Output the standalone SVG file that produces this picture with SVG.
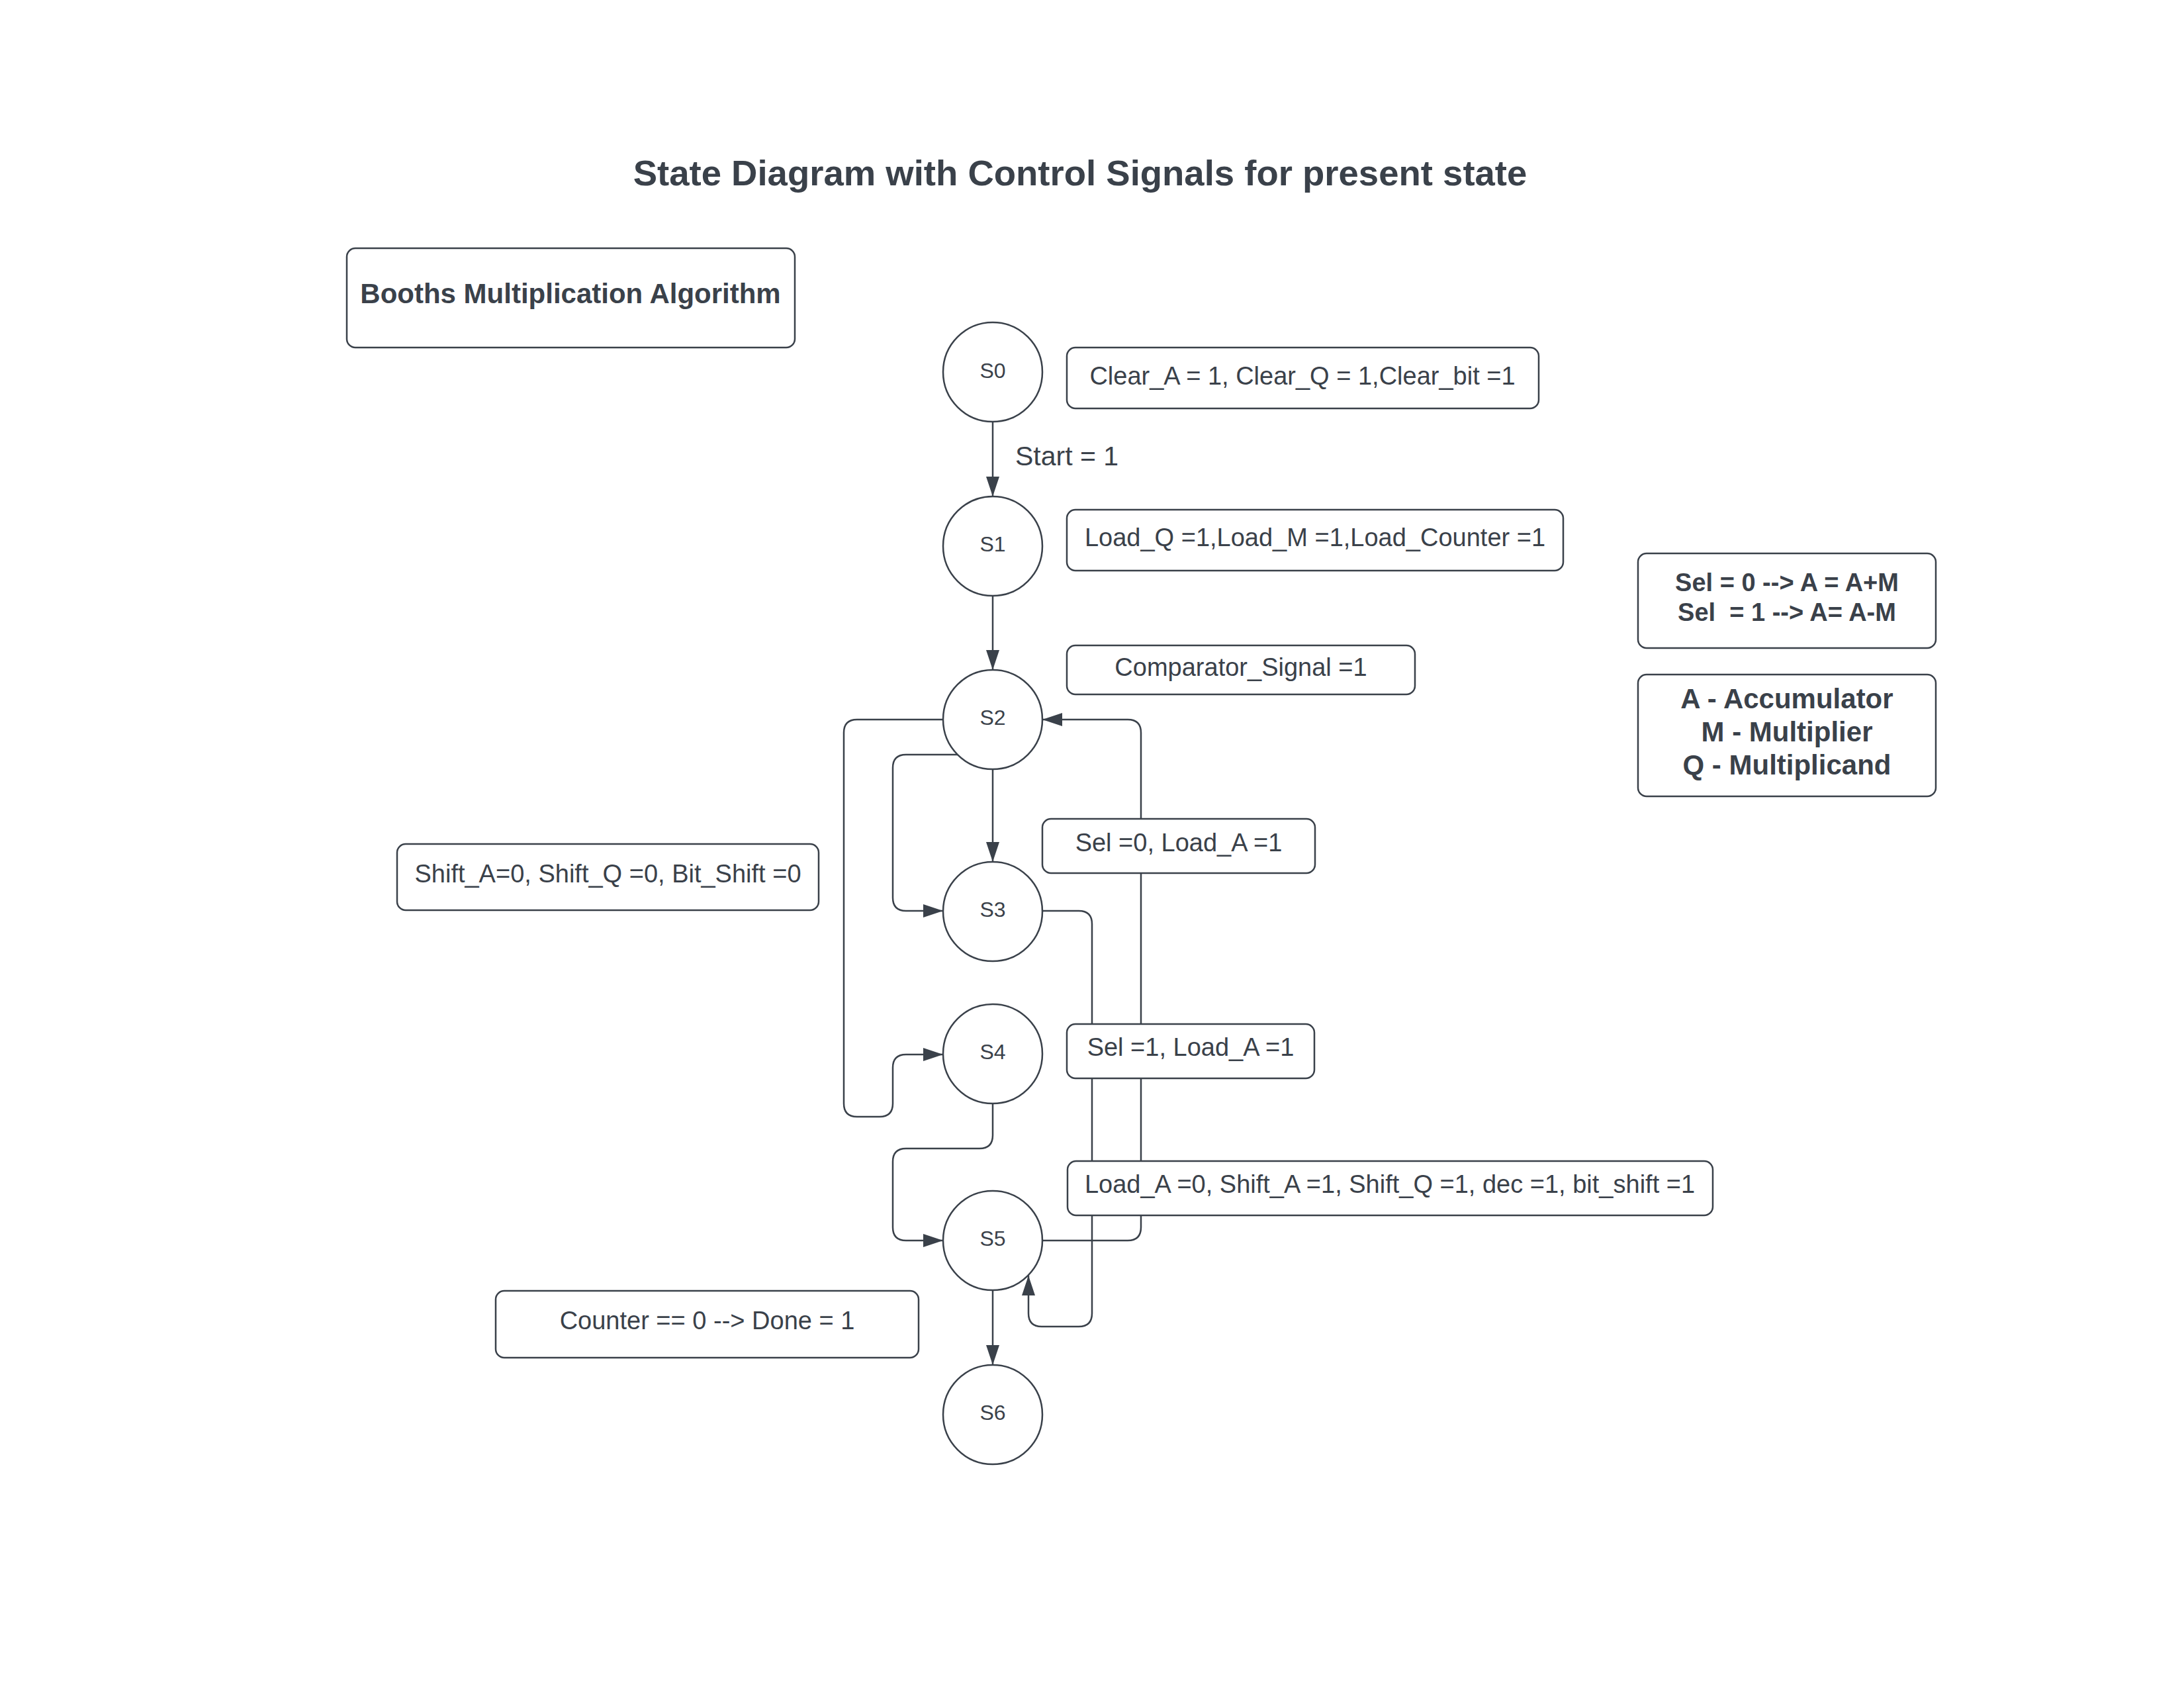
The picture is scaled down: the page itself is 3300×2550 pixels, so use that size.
<svg xmlns="http://www.w3.org/2000/svg" width="3300" height="2550" viewBox="0 0 3300 2550">
<style>
.bg{fill:#ffffff}
.st{fill:#ffffff;stroke:#3a414a;stroke-width:2.5}
.box{fill:#ffffff;stroke:#3a414a;stroke-width:2.5}
.ln{fill:none;stroke:#3a414a;stroke-width:2.5}
.t{font-family:"Liberation Sans",Arial,sans-serif;fill:#3a414a;text-anchor:middle}
.lbl{font-size:38px}
.sn{font-size:32px}
.b{font-weight:bold}
</style>
<defs>
<marker id="arr" markerUnits="userSpaceOnUse" markerWidth="30" markerHeight="20" refX="30" refY="10" orient="auto">
<path d="M0,0 L30,10 L0,20 z" fill="#3a414a"/>
</marker>
</defs>
<rect class="bg" x="0" y="0" width="3300" height="2550"/>
<text class="t b" x="1632" y="280" font-size="54.5">State Diagram with Control Signals for present state</text>

<g id="connectors">
<path class="ln" d="M1500,637 L1500,750" marker-end="url(#arr)"/>
<path class="ln" d="M1500,900 L1500,1012" marker-end="url(#arr)"/>
<path class="ln" d="M1500,1162 L1500,1302" marker-end="url(#arr)"/>
<path class="ln" d="M1425,1087 L1295,1087 Q1275,1087 1275,1107 L1275,1667 Q1275,1687 1295,1687 L1329,1687 Q1349,1687 1349,1667 L1349,1613 Q1349,1593 1369,1593 L1425,1593" marker-end="url(#arr)"/>
<path class="ln" d="M1447,1140 L1369,1140 Q1349,1140 1349,1160 L1349,1356 Q1349,1376 1369,1376 L1425,1376" marker-end="url(#arr)"/>
<path class="ln" d="M1575,1376 L1630,1376 Q1650,1376 1650,1396 L1650,1984 Q1650,2004 1630,2004 L1574,2004 Q1554,2004 1554,1984 L1554,1927" marker-end="url(#arr)"/>
<path class="ln" d="M1575,1874 L1704,1874 Q1724,1874 1724,1854 L1724,1107 Q1724,1087 1704,1087 L1575,1087" marker-end="url(#arr)"/>
<path class="ln" d="M1500,1667 L1500,1715 Q1500,1735 1480,1735 L1369,1735 Q1349,1735 1349,1755 L1349,1854 Q1349,1874 1369,1874 L1425,1874" marker-end="url(#arr)"/>
<path class="ln" d="M1500,1949 L1500,2062" marker-end="url(#arr)"/>
</g>

<g id="title-box">
<rect class="box" x="524" y="375" width="677" height="150" rx="13"/>
<text class="t b" x="862" y="458" font-size="42">Booths Multiplication Algorithm</text>
</g>

<g id="S0"><circle class="st" cx="1500" cy="562" r="75"/><text class="t sn" x="1500" y="571">S0</text></g>
<g id="S1"><circle class="st" cx="1500" cy="825" r="75"/><text class="t sn" x="1500" y="833">S1</text></g>
<g id="S2"><circle class="st" cx="1500" cy="1087" r="75"/><text class="t sn" x="1500" y="1095">S2</text></g>
<g id="S3"><circle class="st" cx="1500" cy="1377" r="75"/><text class="t sn" x="1500" y="1385">S3</text></g>
<g id="S4"><circle class="st" cx="1500" cy="1592" r="75"/><text class="t sn" x="1500" y="1600">S4</text></g>
<g id="S5"><circle class="st" cx="1500" cy="1874" r="75"/><text class="t sn" x="1500" y="1882">S5</text></g>
<g id="S6"><circle class="st" cx="1500" cy="2137" r="75"/><text class="t sn" x="1500" y="2145">S6</text></g>

<g id="start-label"><text class="t" x="1534" y="703" font-size="41" style="text-anchor:start">Start = 1</text></g>

<g id="S0-signals">
<rect class="box" x="1612" y="525" width="713" height="92" rx="13"/>
<text class="t lbl" x="1968" y="581">Clear_A = 1, Clear_Q = 1,Clear_bit =1</text>
</g>
<g id="S1-signals">
<rect class="box" x="1612" y="770" width="750" height="92" rx="13"/>
<text class="t lbl" x="1987" y="825">Load_Q =1,Load_M =1,Load_Counter =1</text>
</g>
<g id="S2-signals">
<rect class="box" x="1612" y="975" width="526" height="74" rx="13"/>
<text class="t lbl" x="1875" y="1021">Comparator_Signal =1</text>
</g>
<g id="S3-signals">
<rect class="box" x="1575" y="1237" width="412" height="82" rx="13"/>
<text class="t lbl" x="1781" y="1286">Sel =0, Load_A =1</text>
</g>
<g id="S4-signals">
<rect class="box" x="1612" y="1547" width="374" height="82" rx="13"/>
<text class="t lbl" x="1799" y="1595">Sel =1, Load_A =1</text>
</g>
<g id="S5-signals">
<rect class="box" x="1613" y="1754" width="975" height="82" rx="13"/>
<text class="t lbl" x="2100" y="1802">Load_A =0, Shift_A =1, Shift_Q =1, dec =1, bit_shift =1</text>
</g>
<g id="shift-signals">
<rect class="box" x="600" y="1275" width="637" height="100" rx="13"/>
<text class="t lbl" x="918.5" y="1333">Shift_A=0, Shift_Q =0, Bit_Shift =0</text>
</g>
<g id="done-signal">
<rect class="box" x="749" y="1950" width="639" height="101" rx="13"/>
<text class="t lbl" x="1068.5" y="2008">Counter == 0 --&gt; Done = 1</text>
</g>
<g id="sel-legend">
<rect class="box" x="2475" y="836" width="450" height="143" rx="13"/>
<text class="t b" x="2700" y="893" font-size="38">Sel = 0 --&gt; A = A+M</text>
<text class="t b" x="2700" y="938" font-size="38" xml:space="preserve">Sel  = 1 --&gt; A= A-M</text>
</g>
<g id="reg-legend">
<rect class="box" x="2475" y="1019" width="450" height="184" rx="13"/>
<text class="t b" x="2700" y="1070" font-size="42">A - Accumulator</text>
<text class="t b" x="2700" y="1120" font-size="42">M - Multiplier</text>
<text class="t b" x="2700" y="1170" font-size="42">Q - Multiplicand</text>
</g>
</svg>
